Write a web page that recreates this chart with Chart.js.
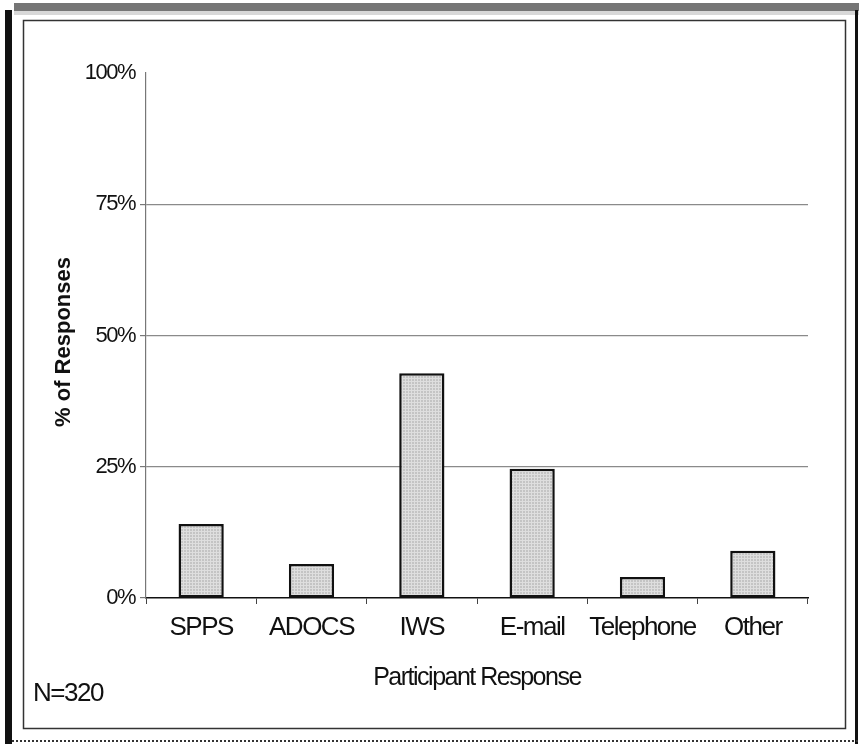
<!DOCTYPE html>
<html>
<head>
<meta charset="utf-8">
<title>Participant Response</title>
<script src="https://cdn.jsdelivr.net/npm/chart.js@4.4.1/dist/chart.umd.min.js"></script>
<style>
  html, body { margin: 0; padding: 0; background: #fff; overflow: hidden; }
  #wrap { position: relative; width: 859px; height: 744px; }
</style>
</head>
<body>
<div id="wrap"><canvas id="responseChart"></canvas></div>
<script>
// Categorias y porcentaje de respuestas
const categories = ['SPPS', 'ADOCS', 'IWS', 'E-mail', 'Telephone', 'Other'];
const responsePct = [14.1, 6.5, 42.8, 24.6, 4.0, 9.0];
const yTicks = [0, 25, 50, 75, 100];
const sampleNote = 'N=320';
const yTitle = '% of Responses';
const xTitle = 'Participant Response';

const FONT = '"Liberation Sans", Arial, sans-serif';
const TIGHT = '-1.5px'; // letra condensada como en el original

// Relleno punteado gris de las barras
function barPattern() {
    const c = document.createElement('canvas');
    c.width = 3;
    c.height = 3;
    const g = c.getContext('2d');
    g.fillStyle = '#c4c4c4';
    g.fillRect(0, 0, 3, 3);
    g.fillStyle = '#dedede';
    g.fillRect(0, 0, 3, 1);
    g.fillRect(0, 0, 1, 3);
    return g.createPattern(c, 'repeat');
}

// Marco de la figura, titulo del eje Y y nota N=320
const framePlugin = {
    id: 'frame',
    beforeUpdate(chart) { chart.ctx.letterSpacing = TIGHT; },
    beforeLayout(chart) { chart.ctx.letterSpacing = TIGHT; },
    beforeDraw(chart) {
        const ctx = chart.ctx;
        const w = chart.width, h = chart.height;
        ctx.save();
        ctx.fillStyle = '#fff';
        ctx.fillRect(0, 0, w, h);
        // banda gris superior
        ctx.fillStyle = '#767676';
        ctx.fillRect(14, 3, w - 14, 8);
        ctx.fillStyle = '#d8d8d8';
        ctx.fillRect(14, 11, w - 14, 4);
        // barra negra izquierda
        ctx.fillStyle = '#111';
        ctx.fillRect(5, 10, 7, h - 10);
        // borde derecho
        ctx.fillRect(855, 10, 3, h - 10);
        // marco interior
        ctx.strokeStyle = '#333';
        ctx.lineWidth = 1.5;
        ctx.strokeRect(23.5, 20.5, 822, 708);
        // borde inferior punteado
        ctx.setLineDash([2, 2]);
        ctx.lineWidth = 2;
        ctx.beginPath();
        ctx.moveTo(12, 741);
        ctx.lineTo(w, 741);
        ctx.stroke();
        ctx.restore();
        ctx.letterSpacing = TIGHT;
    },
    afterDraw(chart) {
        const ctx = chart.ctx;
        ctx.save();
        ctx.fillStyle = '#111';
        ctx.textBaseline = 'middle';
        ctx.textAlign = 'left';
        ctx.font = '26px ' + FONT;
        ctx.fillText(sampleNote, 33, 694);
        // titulo vertical en negrita
        ctx.letterSpacing = '0px';
        ctx.font = 'bold 22px ' + FONT;
        ctx.translate(64, 342);
        ctx.rotate(-Math.PI / 2);
        ctx.textAlign = 'center';
        ctx.fillText(yTitle, 0, 0);
        ctx.restore();
    }
};

const ctx = document.getElementById('responseChart').getContext('2d');
const chart = new Chart(ctx, {
    type: 'bar',
    data: {
        labels: categories,
        datasets: [{
            label: yTitle,
            data: responsePct,
            backgroundColor: barPattern(),
            borderColor: '#111',
            borderWidth: 2.5,
            borderSkipped: false,
            categoryPercentage: 1,
            barPercentage: 0.41
        }]
    },
    options: {
        responsive: true,
        maintainAspectRatio: false,
        animation: false,
        layout: { padding: { left: 0, top: 73, right: 51, bottom: 0 } },
        plugins: {
            legend: { display: false },
            tooltip: { enabled: false }
        },
        scales: {
            x: {
                afterFit: scale => { scale.height = 146; },
                grid: {
                    drawOnChartArea: false,
                    drawTicks: true,
                    tickLength: 6,
                    tickColor: '#444',
                    offset: true
                },
                border: { color: '#111', width: 1.5 },
                ticks: {
                    color: '#111',
                    padding: 8,
                    autoSkip: false,
                    maxRotation: 0,
                    minRotation: 0,
                    font: { family: FONT, size: 26 }
                },
                title: {
                    display: true,
                    text: xTitle,
                    color: '#111',
                    font: { family: FONT, size: 25 },
                    padding: { top: 0, bottom: 51 }
                }
            },
            y: {
                min: 0,
                max: 100,
                afterFit: scale => { scale.width = 146; },
                afterBuildTicks: axis => {
                    axis.ticks = yTicks.map(v => ({ value: v }));
                },
                grid: {
                    color: c => (c.tick && (c.tick.value === 0 || c.tick.value === 100)) ? 'rgba(0,0,0,0)' : '#8a8a8a',
                    tickColor: c => (c.tick && c.tick.value === 100) ? 'rgba(0,0,0,0)' : '#777',
                    tickLength: 6,
                    lineWidth: 1.2
                },
                border: { color: '#777', width: 1.2 },
                ticks: {
                    color: '#111',
                    padding: 5,
                    font: { family: FONT, size: 22 },
                    callback: v => v + '%'
                },
                title: { display: false }
            }
        }
    },
    plugins: [framePlugin]
});
</script>
</body>
</html>
